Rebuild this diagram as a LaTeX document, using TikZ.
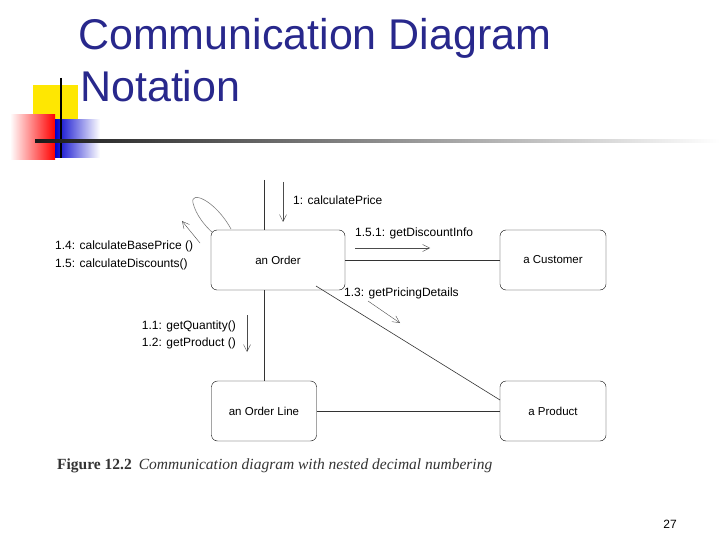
\documentclass[tikz,border=0pt]{standalone}
\usepackage{fontspec}
\setmainfont{Liberation Serif}
\newfontfamily\sans{Liberation Sans}
\usetikzlibrary{arrows.meta}
\definecolor{navy}{RGB}{40,40,140}
\tikzset{obj/.style={draw,rounded corners=6pt,minimum width=#1,minimum height=60,inner sep=0,font=\sans\fontsize{11.5}{13}\selectfont},
 lab/.style={font=\sans\fontsize{12}{14}\selectfont,inner sep=1pt},
 msg/.style={-{Straight Barb[length=7pt,width=7pt]},thin,gray!60!black},
 ln/.style={gray!40!black,line width=0.6pt}}
\begin{document}
\begin{tikzpicture}[x=1pt,y=-1pt]
\useasboundingbox (0,0) rectangle (720,540);
% decoration
\fill[yellow!90!orange] (33,85) rectangle (78,130);
\shade[left color=white,right color=red] (10,115) rectangle (55,160);
\shade[left color=blue!80!black,right color=white] (55,120) rectangle (100,158);
\draw[line width=1.5pt] (61,78) -- (61,158);
\shade[left color=black!90,right color=white] (35,140) rectangle (720,143);
\node[anchor=base west,text=navy,font=\sans\fontsize{43}{45}\selectfont,inner sep=0] (t1) at (78,50) {Communication Diagram};
\node[anchor=base west,text=navy,font=\sans\fontsize{43}{45}\selectfont,inner sep=0] (t2) at (80,102) {Notation};
% objects
\node[obj=134] (o) at (278,260) {an Order};
\node[obj=106] (c) at (553,260) {a Customer};
\node[obj=105] (ol) at (264,411) {an Order Line};
\node[obj=106] (p) at (553,411) {a Product};
\coordinate (top) at (264,180);
\draw[ln] (top) -- (o.north -| top);
\draw[ln] (o) -- (c);
\draw[ln] (o.south -| top) -- (ol.north -| top);
\draw[ln] (ol) -- (p);
\draw[ln] (316,286) -- (500,400);
% self loop
\draw[ln,gray] (231,229) .. controls (215,200) and (190,190) .. (193,203) .. controls (196,215) and (205,226) .. (213,233);
\coordinate (a1) at (200,243); \coordinate (a2) at (182,221);
\draw[msg] (a1) -- (a2);
\node[lab,anchor=west] (l14) at (54,246) {1.4: calculateBasePrice ()};
\node[lab,anchor=west] (l15) at (54,264) {1.5: calculateDiscounts()};
% messages
\coordinate (b1) at (283,182); \coordinate (b2) at (283,222);
\draw[msg] (b1) -- (b2);
\node[lab,anchor=west] (l1) at (292,200) {1: calculatePrice};
\coordinate (d1) at (355,248); \coordinate (d2) at (430,248);
\draw[msg] (d1) -- (d2);
\node[lab,anchor=west] (l151) at (354,233) {1.5.1: getDiscountInfo};
\coordinate (e1) at (368,301); \coordinate (e2) at (400,323);
\draw[msg] (e1) -- (e2);
\node[lab,anchor=west] (l13) at (343,293) {1.3: getPricingDetails};
\coordinate (f1) at (247,315); \coordinate (f2) at (247,352);
\draw[msg] (f1) -- (f2);
\node[lab,anchor=east] (l11) at (237,326) {1.1: getQuantity()};
\node[lab,anchor=east] (l12) at (237,343) {1.2: getProduct ()};
% caption
\node[anchor=base west,inner sep=0,font=\fontsize{15.5}{17}\selectfont,text=black!80] (cap) at (57,469) {\textbf{Figure 12.2}\hspace{7pt}\textit{Communication diagram with nested decimal numbering}};
\node[anchor=base east,inner sep=0,font=\sans\fontsize{12}{14}\selectfont] (pg) at (677,528) {27};
\end{tikzpicture}
\end{document}
